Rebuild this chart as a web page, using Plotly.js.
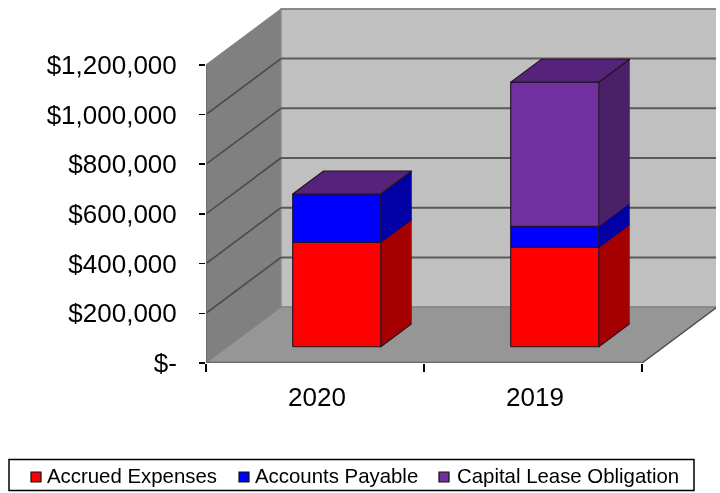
<!DOCTYPE html>
<html>
<head>
<meta charset="utf-8">
<script src="https://cdn.plot.ly/plotly-3.0.1.min.js"></script>
<style>html,body{margin:0;padding:0;background:#fff}#chart{width:720px;height:493px;filter:blur(0.4px)}</style>
</head>
<body>
<div id="chart"></div>
<script>
// Data
var categories = ['2020', '2019'];
var seriesNames = ['Accrued Expenses', 'Accounts Payable', 'Capital Lease Obligation'];
var accrued = [420000, 400000];
var payable = [195000, 85000];
var capital = [0, 580000];
var yTicks = [0, 200000, 400000, 600000, 800000, 1000000, 1200000];
var yTickText = ['$-', '$200,000', '$400,000', '$600,000', '$800,000', '$1,000,000', '$1,200,000'];
var frontColors = ['#FF0000', '#0000FF', '#7030A0'];
var sideColors = ['#A50000', '#0000A5', '#4A2068'];
var topColor = '#55237A';

// Oblique projection: depth d (0..1) shifts a point along x and value
var DX = 0.344, DY = 225000;
var YMAX = 1200000, NCAT = categories.length;
function px(x, d) { return x + d * DX; }
function py(v, d) { return v + d * DY; }
function poly(pts, fill, line, width) {
  return {
    type: 'scatter', mode: 'lines', fill: 'toself', fillcolor: fill,
    x: pts.map(function (p) { return px(p[0], p[2]); }).concat(px(pts[0][0], pts[0][2])),
    y: pts.map(function (p) { return py(p[1], p[2]); }).concat(py(pts[0][1], pts[0][2])),
    line: { color: line, width: width }, hoverinfo: 'skip', showlegend: false, cliponaxis: false
  };
}
function seg(a, b, color, width) {
  return {
    type: 'scatter', mode: 'lines',
    x: [px(a[0], a[2]), px(b[0], b[2])], y: [py(a[1], a[2]), py(b[1], b[2])],
    line: { color: color, width: width }, hoverinfo: 'skip', showlegend: false, cliponaxis: false
  };
}

var traces = [];
// walls and floor
traces.push(poly([[0, 0, 0], [0, YMAX, 0], [0, YMAX, 1], [0, 0, 1]], '#808080', '#808080', 1));
traces.push(poly([[0, 0, 1], [0, YMAX, 1], [NCAT, YMAX, 1], [NCAT, 0, 1]], '#C0C0C0', '#8A8A8A', 1.5));
traces.push(poly([[0, 0, 0], [0, 0, 1], [NCAT, 0, 1], [NCAT, 0, 0]], '#969696', '#808080', 1));
// gridlines
yTicks.forEach(function (v) {
  if (v === 0) return;
  if (v < YMAX) traces.push(seg([0, v, 0], [0, v, 1], '#4A4A4A', 1.6));
  traces.push(seg([0, v, 1], [NCAT, v, 1], v === YMAX ? '#808080' : '#5A5A5A', v === YMAX ? 1.5 : 2));
});
// frame
traces.push(seg([0, 0, 0], [0, YMAX, 0], '#6E6E6E', 2));
traces.push(seg([0, 0, 0], [NCAT, 0, 0], '#666666', 2.5));
traces.push(seg([NCAT, 0, 0], [NCAT, 0, 1], '#505050', 1.5));
traces.push(seg([NCAT, 0, 1], [NCAT, YMAX, 1], '#8A8A8A', 1.5));

// stacked blocks
var W = 0.404, D0 = 0.29, D1 = 0.70, EDGE = '#221122', EW = 1.1;
var series = [accrued, payable, capital];
categories.forEach(function (c, i) {
  var l = i + 0.5 - W / 2, r = i + 0.5 + W / 2, base = 0;
  series.forEach(function (s, k) {
    if (!(s[i] > 0)) return;
    var t = base + s[i];
    traces.push(poly([[r, base, D0], [r, t, D0], [r, t, D1], [r, base, D1]], sideColors[k], sideColors[k], 0.5));
    traces.push(poly([[l, base, D0], [l, t, D0], [r, t, D0], [r, base, D0]], frontColors[k], EDGE, EW));
    traces.push(seg([r, t, D0], [r, t, D1], EDGE, EW));
    base = t;
  });
  traces.push(poly([[l, base, D0], [l, base, D1], [r, base, D1], [r, base, D0]], topColor, EDGE, EW));
  traces.push(seg([r, 0, D0], [r, 0, D1], EDGE, EW));
});

// Page geometry
var L = 206, R = 4, T = 5, B = 130, PW = 720 - L - R, PH = 493 - T - B;
function paperX(p) { return (p - L) / PW; }
function paperY(p) { return (493 - B - p) / PH; }

var legendStart = [[31, 47], [239, 255], [439, 457]];
var shapes = [{
  type: 'rect', xref: 'paper', yref: 'paper', x0: paperX(9), x1: paperX(694), y0: paperY(459.5), y1: paperY(490.5),
  line: { color: '#000', width: 1.5 }, fillcolor: '#fff', layer: 'below'
}];
var annotations = [];
seriesNames.forEach(function (n, k) {
  shapes.push({
    type: 'rect', xref: 'paper', yref: 'paper',
    x0: paperX(legendStart[k][0]), x1: paperX(legendStart[k][0] + 10), y0: paperY(472), y1: paperY(482),
    fillcolor: frontColors[k], line: { color: '#111', width: 1.2 }
  });
  annotations.push({
    xref: 'paper', yref: 'paper', x: paperX(legendStart[k][1] - 2), y: paperY(476), text: n, showarrow: false,
    xanchor: 'left', yanchor: 'middle', font: { family: 'Liberation Sans, Arial, sans-serif', size: 20.4, color: '#000' }
  });
});

var layout = {
  width: 720, height: 493, showlegend: false,
  margin: { l: L, r: R, t: T, b: B, pad: 0 },
  paper_bgcolor: '#fff', plot_bgcolor: '#fff',
  font: { family: 'Liberation Sans, Arial, sans-serif', color: '#000', size: 24 },
  xaxis: {
    range: [0, PW / 218], showgrid: false, zeroline: false, showline: false,
    tickmode: 'array', tickvals: categories.map(function (c, i) { return i + 0.509; }), ticktext: categories,
    ticks: '', ticklabelstandoff: 16, tickfont: { size: 26 },
    minor: { tickmode: 'array', tickvals: [0, 1, 2], ticks: 'outside', ticklen: 8, tickwidth: 1.5, tickcolor: '#000', showgrid: false }
  },
  yaxis: {
    range: [0, PH / 248.5 * 1e6], showgrid: false, zeroline: false, showline: false,
    tickmode: 'array', tickvals: yTicks, ticktext: yTickText,
    ticks: 'outside', ticklen: 6, tickwidth: 1.5, tickcolor: '#000',
    ticklabelstandoff: 17, tickfont: { size: 26 }
  },
  shapes: shapes, annotations: annotations
};
Plotly.newPlot('chart', traces, layout, { displayModeBar: false, staticPlot: true });
</script>
</body>
</html>
